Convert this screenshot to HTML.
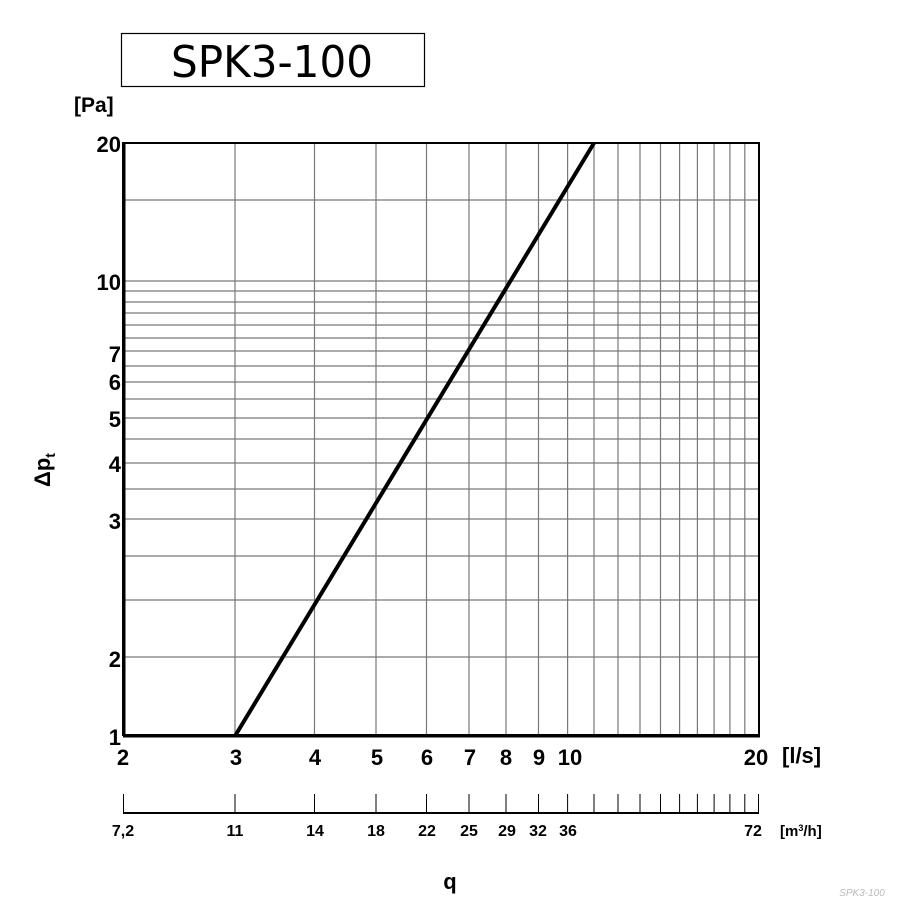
<!DOCTYPE html>
<html><head><meta charset="utf-8"><style>
html,body{margin:0;padding:0;background:#fff;}
svg{display:block;font-family:"Liberation Sans",sans-serif;}
</style></head><body>
<svg width="908" height="909" viewBox="0 0 908 909" xmlns="http://www.w3.org/2000/svg">
<rect x="121.5" y="33.5" width="303" height="53" fill="none" stroke="#000" stroke-width="1.2"/>
<text x="272" y="77" font-size="44" text-anchor="middle" font-family="DejaVu Sans, sans-serif" font-weight="normal" textLength="202" lengthAdjust="spacingAndGlyphs">SPK3-100</text>
<text x="74" y="112" font-size="21" font-weight="bold">[Pa]</text>
<g stroke="#777" stroke-width="1.2">
<line x1="123" x2="759" y1="200" y2="200"/>
<line x1="123" x2="759" y1="281" y2="281"/>
<line x1="123" x2="759" y1="291" y2="291"/>
<line x1="123" x2="759" y1="302" y2="302"/>
<line x1="123" x2="759" y1="313" y2="313"/>
<line x1="123" x2="759" y1="325" y2="325"/>
<line x1="123" x2="759" y1="338" y2="338"/>
<line x1="123" x2="759" y1="351" y2="351"/>
<line x1="123" x2="759" y1="366" y2="366"/>
<line x1="123" x2="759" y1="382" y2="382"/>
<line x1="123" x2="759" y1="399" y2="399"/>
<line x1="123" x2="759" y1="418" y2="418"/>
<line x1="123" x2="759" y1="439" y2="439"/>
<line x1="123" x2="759" y1="463" y2="463"/>
<line x1="123" x2="759" y1="489" y2="489"/>
<line x1="123" x2="759" y1="519" y2="519"/>
<line x1="123" x2="759" y1="556" y2="556"/>
<line x1="123" x2="759" y1="600" y2="600"/>
<line x1="123" x2="759" y1="657" y2="657"/>
<line y1="143" y2="735" x1="235" x2="235"/>
<line y1="143" y2="735" x1="314.5" x2="314.5"/>
<line y1="143" y2="735" x1="376" x2="376"/>
<line y1="143" y2="735" x1="426.5" x2="426.5"/>
<line y1="143" y2="735" x1="469" x2="469"/>
<line y1="143" y2="735" x1="506" x2="506"/>
<line y1="143" y2="735" x1="538.5" x2="538.5"/>
<line y1="143" y2="735" x1="567.6" x2="567.6"/>
<line y1="143" y2="735" x1="594" x2="594"/>
<line y1="143" y2="735" x1="618" x2="618"/>
<line y1="143" y2="735" x1="640" x2="640"/>
<line y1="143" y2="735" x1="660.5" x2="660.5"/>
<line y1="143" y2="735" x1="679.6" x2="679.6"/>
<line y1="143" y2="735" x1="697.4" x2="697.4"/>
<line y1="143" y2="735" x1="714.1" x2="714.1"/>
<line y1="143" y2="735" x1="729.9" x2="729.9"/>
<line y1="143" y2="735" x1="744.8" x2="744.8"/>
</g>
<rect x="123" y="143" width="636" height="592" fill="none" stroke="#000" stroke-width="2"/>
<line x1="124" y1="143" x2="124" y2="736" stroke="#000" stroke-width="3"/>
<line x1="123" y1="736" x2="760" y2="736" stroke="#000" stroke-width="3"/>
<line x1="235" y1="736" x2="594" y2="143" stroke="#000" stroke-width="4"/>
<g font-size="22" font-weight="bold" text-anchor="end">
<text x="121" y="152">20</text>
<text x="121" y="290">10</text>
<text x="121" y="362">7</text>
<text x="121" y="390">6</text>
<text x="121" y="427">5</text>
<text x="121" y="472">4</text>
<text x="121" y="529">3</text>
<text x="121" y="667">2</text>
<text x="121" y="745">1</text>
</g>
<text x="50" y="470" font-size="22" font-weight="bold" transform="rotate(-90 50 470)" text-anchor="middle">Δp<tspan font-size="14" dy="5">t</tspan></text>
<g font-size="22" font-weight="bold" text-anchor="middle">
<text x="123" y="765">2</text>
<text x="236" y="765">3</text>
<text x="315" y="765">4</text>
<text x="377" y="765">5</text>
<text x="427" y="765">6</text>
<text x="470" y="765">7</text>
<text x="506" y="765">8</text>
<text x="539" y="765">9</text>
<text x="570" y="765">10</text>
<text x="756" y="765">20</text>
</g>
<text x="782" y="763" font-size="22" font-weight="bold">[l/s]</text>
<line x1="123" y1="813" x2="759" y2="813" stroke="#000" stroke-width="2"/>
<g stroke="#000" stroke-width="1">
<line x1="123.5" x2="123.5" y1="794" y2="813"/>
<line x1="235" x2="235" y1="794" y2="813"/>
<line x1="314.5" x2="314.5" y1="794" y2="813"/>
<line x1="376" x2="376" y1="794" y2="813"/>
<line x1="426.5" x2="426.5" y1="794" y2="813"/>
<line x1="469" x2="469" y1="794" y2="813"/>
<line x1="506" x2="506" y1="794" y2="813"/>
<line x1="538.5" x2="538.5" y1="794" y2="813"/>
<line x1="567.6" x2="567.6" y1="794" y2="813"/>
<line x1="594" x2="594" y1="794" y2="813"/>
<line x1="618" x2="618" y1="794" y2="813"/>
<line x1="640" x2="640" y1="794" y2="813"/>
<line x1="660.5" x2="660.5" y1="794" y2="813"/>
<line x1="679.6" x2="679.6" y1="794" y2="813"/>
<line x1="697.4" x2="697.4" y1="794" y2="813"/>
<line x1="714.1" x2="714.1" y1="794" y2="813"/>
<line x1="729.9" x2="729.9" y1="794" y2="813"/>
<line x1="744.8" x2="744.8" y1="794" y2="813"/>
<line x1="758.5" x2="758.5" y1="794" y2="813"/>
</g>
<g font-size="16" font-weight="bold" text-anchor="middle">
<text x="123" y="836">7,2</text>
<text x="235" y="836">11</text>
<text x="315" y="836">14</text>
<text x="376" y="836">18</text>
<text x="427" y="836">22</text>
<text x="469" y="836">25</text>
<text x="507" y="836">29</text>
<text x="538" y="836">32</text>
<text x="568" y="836">36</text>
<text x="753" y="836">72</text>
</g>
<text x="780" y="836" font-size="15" font-weight="bold">[m<tspan font-size="9" dy="-5">3</tspan><tspan dy="5">/h]</tspan></text>
<text x="450" y="889" font-size="22" font-weight="bold" text-anchor="middle">q</text>
<text x="862" y="896" font-size="10" font-style="italic" fill="#bbb" text-anchor="middle">SPK3-100</text>
</svg>
</body></html>
